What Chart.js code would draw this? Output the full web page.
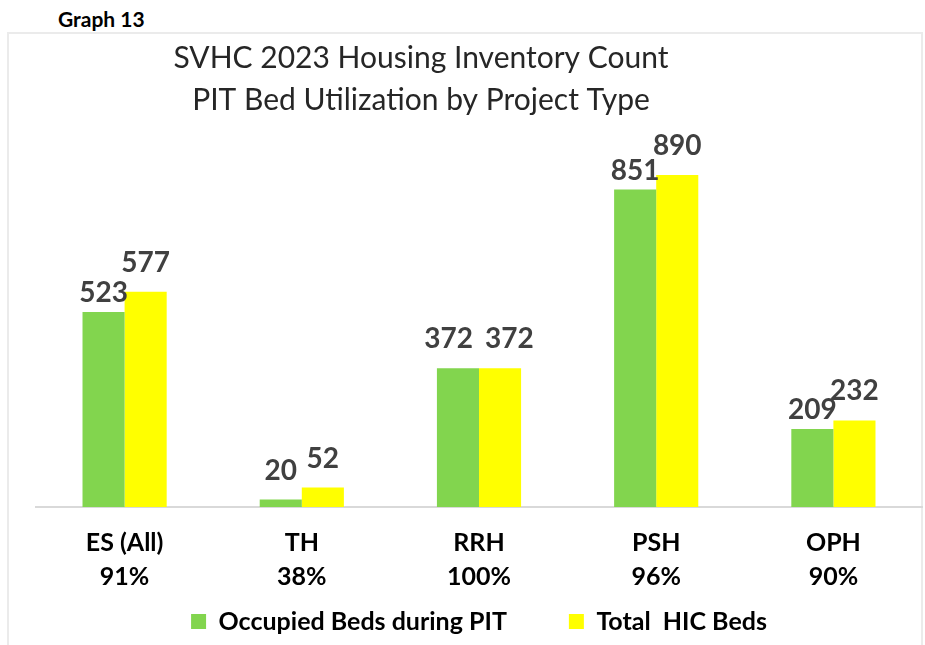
<!DOCTYPE html>
<html>
<head>
<meta charset="utf-8">
<script src="https://cdn.jsdelivr.net/npm/chart.js@4.4.0/dist/chart.umd.min.js"></script>
<style>
	body { margin: 0; background: #fff; }
	.page { position: relative; width: 925px; height: 645px; overflow: hidden; }
	.graph-no { position: absolute; left: 58px; top: 6px; font: bold 21px Lato, sans-serif; color: #000; }
	.frame { position: absolute; left: 7px; top: 32px; width: 912px; height: 640px; border: 2px solid #ebebeb; border-bottom: none; }
	#chart { position: absolute; left: 0; top: 0; }
</style>
</head>
<body>
<div class="page">
	<div class="graph-no">Graph 13</div>
	<div class="frame"></div>
	<canvas id="chart" width="925" height="645"></canvas>
</div>
<script>
	var categories = ['ES (All)', 'TH', 'RRH', 'PSH', 'OPH'];
	var utilization = ['91%', '38%', '100%', '96%', '90%'];
	var occupiedBeds = [523, 20, 372, 851, 209];
	var totalBeds = [577, 52, 372, 890, 232];
	var titleLines = ['SVHC 2023 Housing Inventory Count', 'PIT Bed Utilization by Project Type'];

	var legendGap = 62;     // space between the two legend items
	var legendHeight = 48;  // room the legend takes at the bottom

	// two-line title, centred a little left of the plot like the original
	const chartTitle = {
		id: 'chartTitle',
		afterDraw(chart) {
			const ctx = chart.ctx;
			ctx.save();
			ctx.font = '30px Lato';
			ctx.fillStyle = '#262626';
			ctx.textAlign = 'center';
			ctx.textBaseline = 'middle';
			titleLines.forEach((line, i) => {
				ctx.fillText(line, 421, 58 + i * 42);
			});
			ctx.restore();
		}
	};

	// legend padding also pads vertically, so keep its box short and stretch it upward
	const legendFit = {
		id: 'legendFit',
		beforeLayout(chart) {
			const lg = chart.legend;
			if (lg && !lg._fitPatched) {
				const fit = lg.fit;
				lg.fit = function () {
					fit.call(this);
					this.height = legendHeight;
				};
				lg._fitPatched = true;
			}
		},
		afterLayout(chart) {
			const lg = chart.legend;
			const shift = legendGap - 12;
			lg.top -= shift;
			lg.height += shift;
		}
	};

	// value labels above bars, nudged apart when a pair collides
	const barLabels = {
		id: 'barLabels',
		afterDatasetsDraw(chart) {
			const ctx = chart.ctx;
			const m0 = chart.getDatasetMeta(0), m1 = chart.getDatasetMeta(1);
			ctx.save();
			ctx.font = 'bold 28px Lato';
			ctx.fillStyle = '#404040';
			ctx.textAlign = 'center';
			ctx.textBaseline = 'alphabetic';
			categories.forEach((c, i) => {
				const a = m0.data[i], b = m1.data[i];
				const ta = String(occupiedBeds[i]), tb = String(totalBeds[i]);
				const wa = ctx.measureText(ta).width, wb = ctx.measureText(tb).width;
				let ax = a.x, bx = b.x, ay = a.y - 20, by = b.y - 20;
				const overlapX = (ax + wa / 2 + 4) - (bx - wb / 2);
				if (overlapX > 0 && Math.abs(ay - by) < 22) {
					if (Math.abs(a.y - b.y) < 4) {
						ax -= overlapX / 2 + 4;
						bx += overlapX / 2 + 4;
					} else if (a.y > b.y) {
						ay = a.y - 10;
					} else {
						by = b.y - 10;
					}
				}
				ctx.fillText(ta, ax, ay);
				ctx.fillText(tb, bx, by);
			});
			ctx.restore();
		}
	};

	new Chart(document.getElementById('chart'), {
		type: 'bar',
		data: {
			labels: categories.map((c, i) => [c, utilization[i]]),
			datasets: [
				{ label: 'Occupied Beds during PIT', data: occupiedBeds, backgroundColor: '#82d54e' },
				{ label: 'Total  HIC Beds', data: totalBeds, backgroundColor: '#ffff00' }
			]
		},
		options: {
			responsive: false,
			animation: false,
			layout: { padding: { left: 36, right: 3, top: 134, bottom: 0 } },
			datasets: { bar: { categoryPercentage: 0.475, barPercentage: 1 } },
			scales: {
				x: {
					grid: { display: false, drawTicks: false },
					border: { color: '#d9d9d9', width: 2 },
					ticks: {
						color: '#000',
						padding: 19,
						font: { family: 'Lato', size: 25, weight: 'bold', lineHeight: 1.35 }
					},
					afterFit(scale) { scale.height = 90; }
				},
				y: { display: false, min: 0, max: 1000 }
			},
			plugins: {
				tooltip: { enabled: false },
				legend: {
					position: 'bottom',
					labels: {
						color: '#000',
						boxWidth: 15,
						boxHeight: 15,
						padding: legendGap,
						font: { family: 'Lato', size: 25, weight: 'bold' }
					}
				}
			}
		},
		plugins: [chartTitle, legendFit, barLabels]
	});
</script>
</body>
</html>
